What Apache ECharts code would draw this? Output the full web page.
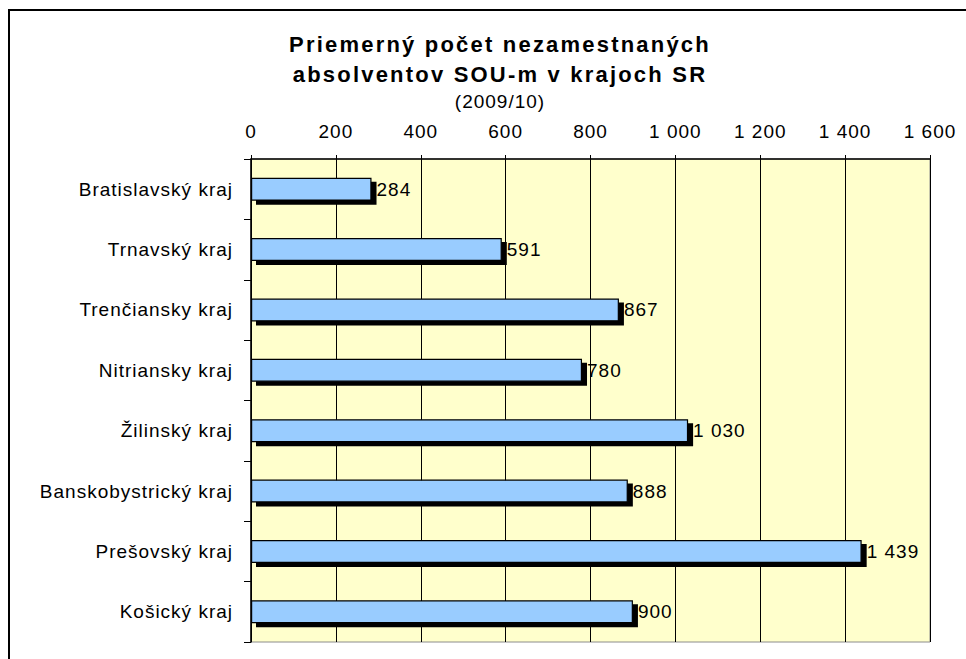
<!DOCTYPE html>
<html>
<head>
<meta charset="utf-8">
<script src="https://cdn.jsdelivr.net/npm/echarts@6/dist/echarts.min.js"></script>
<style>
html,body{margin:0;padding:0;background:#fff}
#c{width:966px;height:659px}
#c svg text{letter-spacing:1px}
#c svg text[style*="22px"]{letter-spacing:2.2px}
</style>
</head>
<body>
<div id="c"></div>
<script>
var categories = ['Bratislavský kraj','Trnavský kraj','Trenčiansky kraj','Nitriansky kraj','Žilinský kraj','Banskobystrický kraj','Prešovský kraj','Košický kraj'];
var values = [284, 591, 867, 780, 1030, 888, 1439, 900];
var titleLines = ['Priemerný počet nezamestnaných', 'absolventov SOU-m v krajoch SR'];
var subTitle = '(2009/10)';

function fmt(v){ return String(v).replace(/\B(?=(\d{3})+(?!\d))/g, ' '); }

var chart = echarts.init(document.getElementById('c'), null, {renderer:'svg'});
var FONT = '"Liberation Sans", Arial, sans-serif';
var BAR_H = 23;
chart.setOption({
  backgroundColor: '#ffffff',
  animation: false,
  textStyle: {fontFamily: FONT},
  graphic: [
    {type: 'rect', silent: true, z: 100,
     shape: {x: 9, y: 10, width: 1000, height: 700},
     style: {fill: 'none', stroke: '#000', lineWidth: 2}}
  ],
  title: [{
    text: titleLines[0], left: 495, top: 28, textAlign: 'center',
    textStyle: {fontFamily: FONT, fontSize: 22, fontWeight: 'bold', color: '#000'}
  },{
    text: titleLines[1], left: 495, top: 58, textAlign: 'center',
    textStyle: {fontFamily: FONT, fontSize: 22, fontWeight: 'bold', color: '#000'}
  },{
    text: subTitle, left: 495, top: 87, textAlign: 'center',
    textStyle: {fontFamily: FONT, fontSize: 19, fontWeight: 'normal', color: '#000'}
  }],
  grid: {
    left: 251, right: 36, top: 159, bottom: 17,
    show: true, backgroundColor: '#FFFFCC', borderColor: '#8c8c8c', borderWidth: 1
  },
  xAxis: {
    type: 'value', position: 'top', min: 0, max: 1600, interval: 200,
    axisLine: {show: true, lineStyle: {color: '#000', width: 1.5}},
    axisTick: {show: true, length: 4, lineStyle: {color: '#000'}},
    axisLabel: {color: '#000', fontSize: 19, fontFamily: FONT, margin: 18, formatter: fmt},
    splitLine: {show: true, lineStyle: {color: '#000', width: 1}}
  },
  yAxis: {
    type: 'category', inverse: true, data: categories,
    axisLine: {show: true, lineStyle: {color: '#000', width: 1.5}},
    axisTick: {show: true, length: 7, lineStyle: {color: '#000'}},
    axisLabel: {color: '#000', fontSize: 19, fontFamily: FONT, margin: 18},
    splitLine: {show: false}
  },
  series: [{
    type: 'custom', z: 1,
    data: values.map(function(v, i){ return [v, i]; }),
    encode: {x: 0, y: 1},
    renderItem: function(params, api){
      var s = api.coord([0, api.value(1)]);
      var e = api.coord([api.value(0), api.value(1)]);
      return {type: 'rect', shape: {x: s[0] + 5, y: s[1] - BAR_H / 2 + 4, width: e[0] - s[0], height: BAR_H},
              style: {fill: '#000'}};
    }
  },{
    type: 'bar', data: values, barWidth: BAR_H, z: 3,
    itemStyle: {color: '#99CCFF', borderColor: '#000', borderWidth: 1.2},
    label: {show: true, position: 'right', distance: 5, color: '#000', fontSize: 19, fontFamily: FONT,
      formatter: function(p){ return fmt(p.value); }}
  }]
});
</script>
</body>
</html>
